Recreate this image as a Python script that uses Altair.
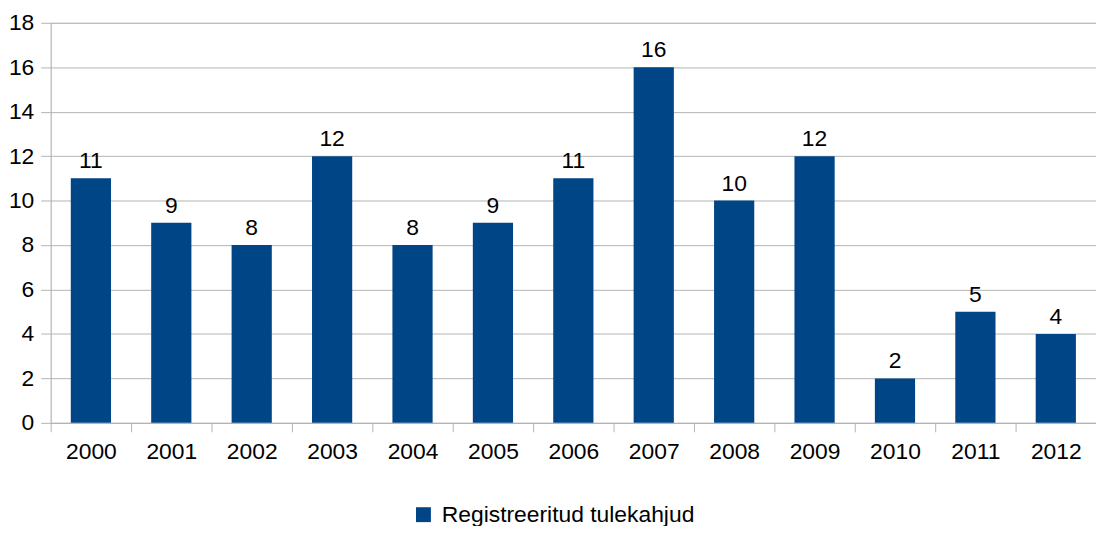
import altair as alt
import pandas as pd

years = ["2000", "2001", "2002", "2003", "2004", "2005", "2006",
         "2007", "2008", "2009", "2010", "2011", "2012"]
values = [11, 9, 8, 12, 8, 9, 11, 16, 10, 12, 2, 5, 4]
series_name = "Registreeritud tulekahjud"
y_ticks = [0, 2, 4, 6, 8, 10, 12, 14, 16, 18]

df = pd.DataFrame({"year": years, "value": values, "series": [series_name] * len(years)})

FONT = "Liberation Sans"
FS = 23
GRID = "#b3b3b3"
BLUE = "#004586"

x_enc = alt.X("year:N", sort=years, title=None,
              scale=alt.Scale(paddingInner=0, paddingOuter=0),
              axis=alt.Axis(labelAngle=0, labelFontSize=FS, labelFont=FONT, labelColor="#000000",
                            tickBand="extent", tickSize=9, tickColor=GRID, domainColor=GRID,
                            labelPadding=9, grid=False))
y_enc = alt.Y("value:Q", title=None,
              scale=alt.Scale(domain=[0, 18], nice=False),
              axis=alt.Axis(values=y_ticks, labelFontSize=FS, labelFont=FONT, labelColor="#000000",
                            tickSize=10, tickColor=GRID, domainColor=GRID, gridColor=GRID,
                            labelPadding=7, grid=True))

bars = alt.Chart(df).mark_bar(width={"band": 0.5}).encode(
    x=x_enc, y=y_enc,
    color=alt.Color("series:N", scale=alt.Scale(range=[BLUE]),
                    legend=alt.Legend(title=None, orient="none", legendX=364, legendY=484,
                                      symbolType="square", symbolSize=225, symbolStrokeWidth=0,
                                      labelFontSize=FS, labelFont=FONT, labelColor="#000000",
                                      labelOffset=7, labelLimit=0))
)

labels = alt.Chart(df).mark_text(baseline="alphabetic", dy=-10, fontSize=FS, font=FONT,
                                 color="#000000").encode(
    x=alt.X("year:N", sort=years), y=alt.Y("value:Q"), text=alt.Text("value:Q")
)

chart = (bars + labels).properties(
    width=1053, height=403,
    autosize=alt.AutoSizeParams(type="none"),
    padding={"left": 43, "top": 13, "right": 0, "bottom": 102},
).configure_view(stroke=None).configure(background="#ffffff")

chart.save("out.html", embed_options={"renderer": "svg", "actions": False})
